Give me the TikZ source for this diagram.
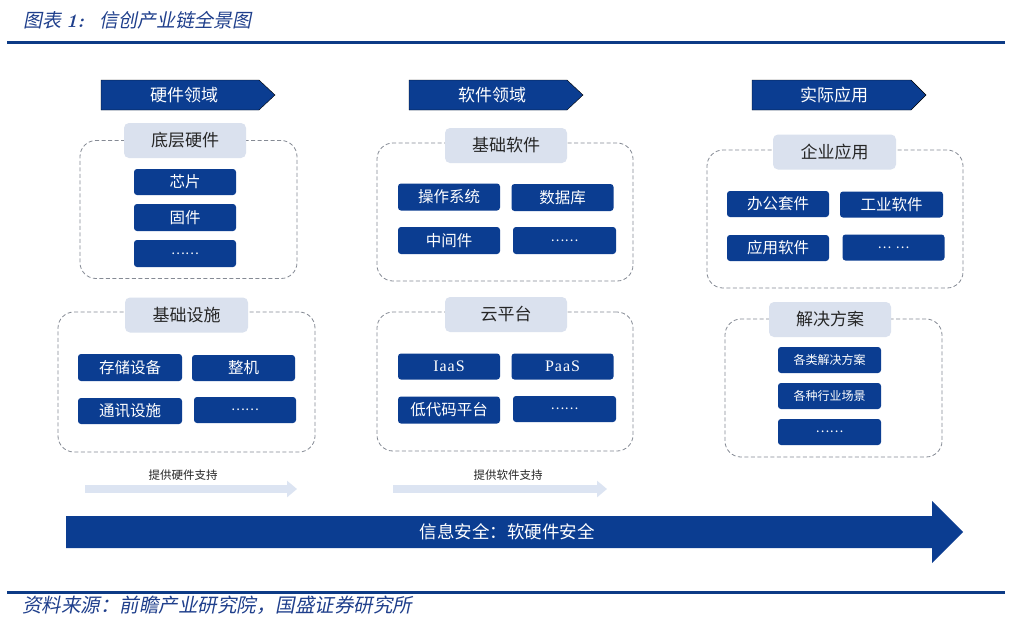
\documentclass[tikz,border=0pt]{standalone}
\usepackage{fontspec}
\newfontfamily\cjk{Noto Sans CJK SC}
\newfontfamily\cjkit[FakeSlant=0.2]{Noto Sans CJK SC}
\newfontfamily\latn{Liberation Serif}
\usetikzlibrary{arrows.meta}
\definecolor{dblue}{HTML}{0B3D91}
\definecolor{lineblue}{HTML}{0D3B86}
\definecolor{lblue}{HTML}{DAE1EE}
\definecolor{pale}{HTML}{DCE4F2}
\definecolor{dashgray}{HTML}{858A94}
\definecolor{titleblue}{HTML}{1F3F8C}
\tikzset{
  item/.style={fill=dblue, rounded corners=3pt, text=white, font=\cjk\fontsize{15.5}{15.5}\selectfont, minimum width=102pt, minimum height=26pt, inner sep=0pt},
  smallitem/.style={item, font=\cjk\fontsize{12}{12}\selectfont},
  dots/.style={font=\cjk\fontsize{13}{13}\selectfont},
  lab/.style={fill=lblue, rounded corners=5pt, font=\cjk\fontsize{17}{17}\selectfont, text=black!85, minimum width=122pt, minimum height=35pt, inner sep=0pt},
  grp/.style={draw=dashgray, dash pattern=on 4pt off 2.5pt, rounded corners=16pt, line width=0.8pt, inner sep=0pt},
  hdr/.style={fill=dblue},
  hdrtext/.style={text=white, font=\cjk\fontsize{17}{17}\selectfont},
  support/.style={font=\cjk\fontsize{11.5}{11.5}\selectfont, text=black!85},
  thinarrow/.style={draw=pale, line width=8pt, -{Triangle[length=10pt,width=16pt]}},
  bline/.style={draw=lineblue, line width=3pt}
}
\begin{document}
\begin{tikzpicture}[x=1pt,y=-1pt]
\useasboundingbox (0,0) rectangle (1010,619);
\fill[white] (0,0) rectangle (1010,619);
% title and rules
\node[anchor=west, inner sep=0pt, text=titleblue, font=\fontsize{19}{19}\selectfont] (title) at (23,20) {{\cjkit 图表}\hspace{5pt}{\bfseries\itshape 1:}\hspace{15pt}{\cjkit 信创产业链全景图}};
\coordinate (tl) at (7,42); \coordinate (tr) at (1005,42);
\draw[bline] (tl) -- (tr);
\coordinate (bl) at (7,592); \coordinate (br) at (1005,592);
\draw[bline] (bl) -- (br);
\node[anchor=west, inner sep=0pt, text=titleblue, font=\cjkit\fontsize{19.5}{19.5}\selectfont] (src) at (22,605) {资料来源：前瞻产业研究院，国盛证券研究所};
% headers
\draw[hdr] (101,80) -- (259,80) -- (275,95) -- (259,110) -- (101,110) -- cycle;
\node[hdrtext] (h1) at (184,95) {硬件领域};
\draw[hdr] (409,80) -- (567,80) -- (583,95) -- (567,110) -- (409,110) -- cycle;
\node[hdrtext] (h2) at (492,95) {软件领域};
\draw[hdr] (752,80) -- (911,80) -- (926,95) -- (911,110) -- (752,110) -- cycle;
\node[hdrtext] (h3) at (834,95) {实际应用};
% left column
\node[grp, minimum width=217pt, minimum height=138pt] (g1) at (188.5,209.5) {};
\node[lab] (l1) at (185,140.5) {底层硬件};
\node[item] (chip) at (185,182) {芯片};
\node[item, minimum height=27pt] (firm) at (185,217.5) {固件};
\node[item, minimum height=27pt, dots] (d1) at (185,253.5) {……};
\node[grp, minimum width=257pt, minimum height=140pt] (g2) at (186.5,382) {};
\node[lab, minimum width=123pt] (l2) at (186.5,315) {基础设施};
\node[item, minimum width=104pt, minimum height=27pt] (stor) at (130,367.5) {存储设备};
\node[item, minimum width=103pt] (mach) at (243.5,368) {整机};
\node[item, minimum width=104pt] (comm) at (130,411) {通讯设施};
\node[item, dots] (d2) at (245,410) {……};
\coordinate (a1s) at (85,489); \coordinate (a1e) at (297,489);
\draw[thinarrow] (a1s) -- (a1e);
\node[support] (s1) at (183,475) {提供硬件支持};
% middle column
\node[grp, minimum width=256pt, minimum height=138pt] (g3) at (505,212) {};
\node[lab] (l3) at (506,145.5) {基础软件};
\node[item, minimum height=27pt] (os) at (449,197) {操作系统};
\node[item, minimum height=27pt] (db) at (562.5,197.5) {数据库};
\node[item, minimum height=27pt] (mid) at (449,240.5) {中间件};
\node[item, minimum width=103pt, minimum height=27pt, dots] (d3) at (564.5,240.5) {……};
\node[grp, minimum width=256pt, minimum height=139pt] (g4) at (505,381.5) {};
\node[lab] (l4) at (506,314.5) {云平台};
\node[item, font=\latn\fontsize{16}{16}\selectfont] (iaas) at (449,366.5) {I\kern1pt a\kern1pt a\kern1pt S};
\node[item, font=\latn\fontsize{16}{16}\selectfont] (paas) at (562.5,366.5) {P\kern1pt a\kern1pt a\kern1pt S};
\node[item, minimum height=27pt] (lowc) at (449,410) {低代码平台};
\node[item, minimum width=103pt, dots] (d4) at (564.5,409) {……};
\coordinate (a2s) at (393,489); \coordinate (a2e) at (607,489);
\draw[thinarrow] (a2s) -- (a2e);
\node[support] (s2) at (508,475) {提供软件支持};
% right column
\node[grp, minimum width=256pt, minimum height=138pt] (g5) at (835,219) {};
\node[lab, minimum width=123pt] (l5) at (834.5,152) {企业应用};
\node[item] (office) at (778,204) {办公套件};
\node[item, minimum width=103pt] (indus) at (891.5,204.5) {工业软件};
\node[item] (apps) at (778,248) {应用软件};
\node[item, dots] (d5) at (893.5,247.5) {…\,\,…};
\node[grp, minimum width=217pt, minimum height=138pt] (g6) at (833.5,388) {};
\node[lab] (l6) at (830,319.5) {解决方案};
\node[smallitem, minimum width=103pt] (sol) at (829.5,360) {各类解决方案};
\node[smallitem, minimum width=103pt] (scene) at (829.5,396) {各种行业场景};
\node[smallitem, minimum width=103pt, dots] (d6) at (829.5,432) {……};
% big security arrow
\fill[dblue] (66,516) -- (932,516) -- (932,501) -- (963,532) -- (932,563) -- (932,548) -- (66,548) -- cycle;
\node[text=white, font=\cjk\fontsize{17.5}{17.5}\selectfont] (sec) at (507,532) {信息安全：软硬件安全};
\end{tikzpicture}
\end{document}
